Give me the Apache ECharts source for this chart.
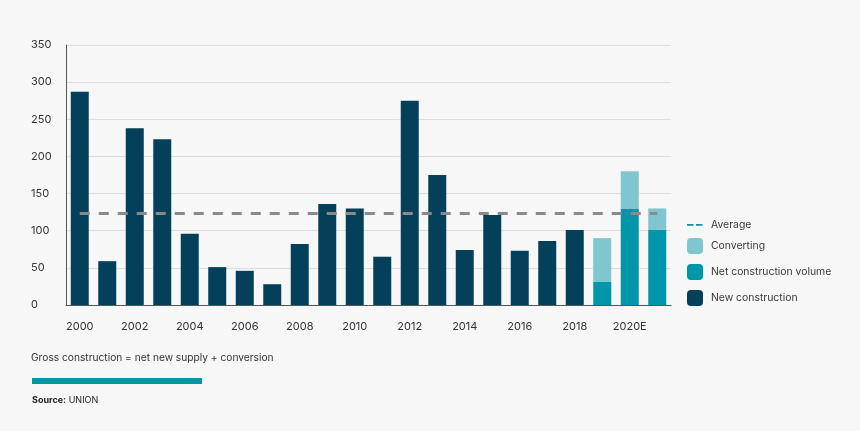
<!DOCTYPE html>
<html>
<head>
<meta charset="utf-8">
<script src="https://cdn.jsdelivr.net/npm/echarts@6/dist/echarts.min.js"></script>
<style>
html,body{margin:0;padding:0;background:#f7f7f7;}
#c{width:860px;height:431px;}
</style>
</head>
<body>
<div id="c"></div>
<script>
const categories = ['2000','2001','2002','2003','2004','2005','2006','2007','2008','2009','2010','2011','2012','2013','2014','2015','2016','2017','2018','2019','2020E','2021'];
const newConstruction = [287,59,238,223,96,51,46,28,82,136,130,65,275,175,74,121,73,86,101,null,null,null];
const netConstruction = [null,null,null,null,null,null,null,null,null,null,null,null,null,null,null,null,null,null,null,31,130,101];
const converting = [null,null,null,null,null,null,null,null,null,null,null,null,null,null,null,null,null,null,null,59,50,29];
const averageValue = 124;
const yTicks = {min:0, max:350, interval:50};

const FONT = 'Inter, "Noto Sans", sans-serif';
const chart = echarts.init(document.getElementById('c'));
chart.setOption({
  backgroundColor:'#f7f7f7',
  textStyle:{fontFamily:FONT},
  grid:{left:66, right:189, top:45, bottom:126},
  legend:[{
    data:[{name:'Average', icon:'path://M0,7h6.5v1.8h-6.5z M9,7h6.5v1.8h-6.5z M0,0h0.01v0.01h-0.01z M16,16h0.01v0.01h-0.01z', itemStyle:{color:'#0096a9'}}],
    orient:'vertical', left:682, top:212, itemWidth:16, itemHeight:16,
    textStyle:{color:'#3a3a3a', fontSize:10.4, fontFamily:FONT, padding:[0,0,0,3]}
  },{
    data:['Converting','Net construction volume','New construction'],
    orient:'vertical', left:682, top:233, itemWidth:16, itemHeight:16, itemGap:10,
    textStyle:{color:'#3a3a3a', fontSize:10.4, fontFamily:FONT, padding:[0,0,0,3]}
  }],
  xAxis:{
    type:'category', data:categories,
    axisLine:{lineStyle:{color:'#555', width:1}},
    axisTick:{show:false},
    axisLabel:{interval:1, color:'#333', fontSize:11, margin:16, fontFamily:FONT}
  },
  yAxis:{
    type:'value', min:yTicks.min, max:yTicks.max, interval:yTicks.interval,
    axisLine:{show:true, lineStyle:{color:'#555', width:1}},
    axisTick:{show:false},
    splitLine:{lineStyle:{color:'#dedede', width:1}},
    axisLabel:{color:'#333', fontSize:11, align:'left', margin:35, fontFamily:FONT}
  },
  series:[
    {name:'New construction', type:'bar', stack:'total', data:newConstruction, barWidth:18, itemStyle:{color:'#04405a'}},
    {name:'Net construction volume', type:'bar', stack:'total', data:netConstruction, barWidth:18, itemStyle:{color:'#0096a9'}},
    {name:'Converting', type:'bar', stack:'total', data:converting, barWidth:18, itemStyle:{color:'#7fc6d0'}},
    {name:'Average', type:'line', data:[], symbol:'none', itemStyle:{color:'#0096a9'},
      lineStyle:{color:'#0096a9', type:'dashed'},
      markLine:{
        symbol:['none','none'], silent:true, label:{show:false},
        lineStyle:{color:'#8a8a8a', width:3, type:[10,9]},
        data:[[{coord:[categories[0], averageValue]},{coord:[categories[categories.length-1], averageValue]}]]
      }}
  ],
  graphic:[
    {type:'text', left:31, top:353, style:{text:'Gross construction = net new supply + conversion', fill:'#333', font:'10.2px '+FONT}},
    {type:'rect', left:32, top:378, shape:{width:170, height:6}, style:{fill:'#0096a9'}},
    {type:'text', left:32, top:396, style:{text:'{b|Source:} UNION', fill:'#222', font:'9px '+FONT, rich:{b:{fontWeight:'bold', fontSize:9, fill:'#222', fontFamily:FONT}}}}
  ]
});
</script>
</body>
</html>
